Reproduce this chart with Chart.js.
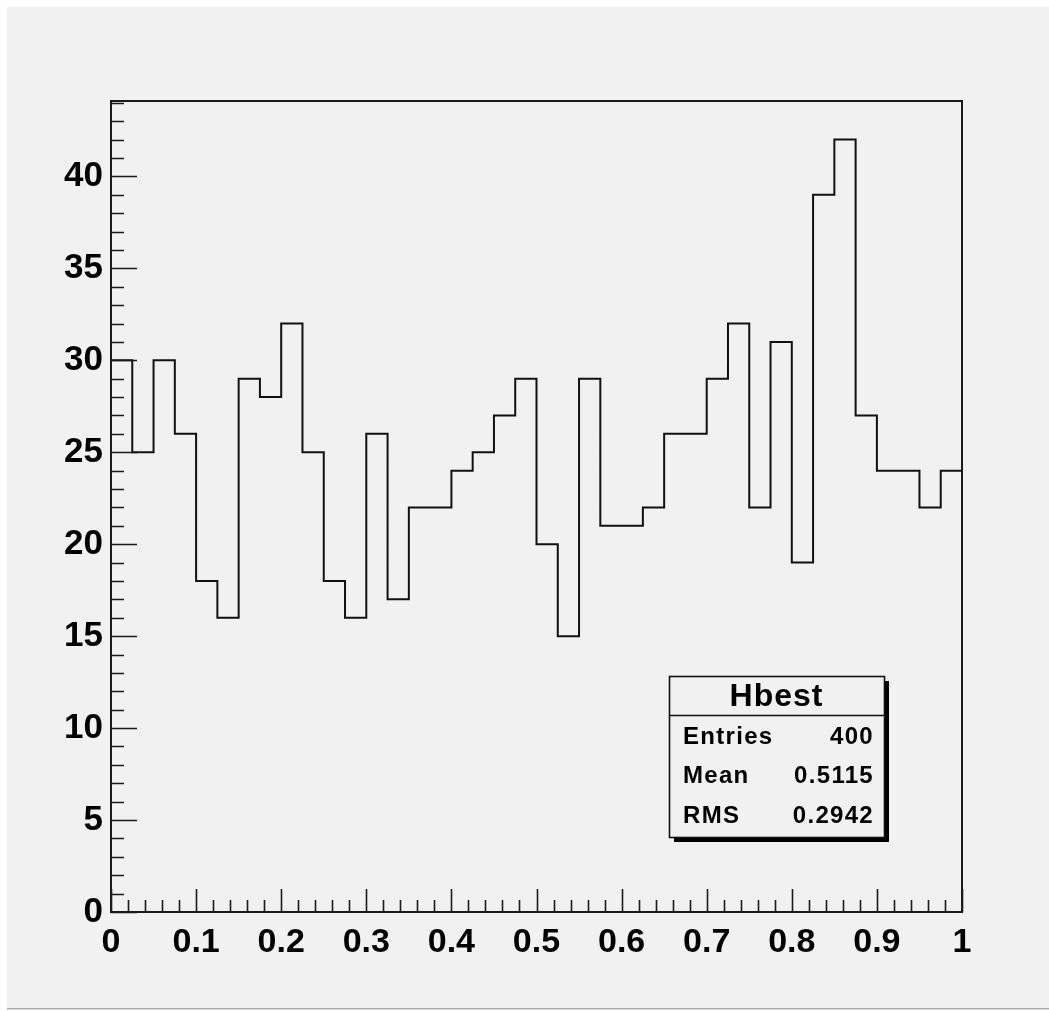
<!DOCTYPE html>
<html>
<head>
<meta charset="utf-8">
<script src="https://cdn.jsdelivr.net/npm/chart.js@4.4.1/dist/chart.umd.min.js"></script>
<style>
  html, body { margin: 0; padding: 0; background: #ffffff; }
  #wrap { position: absolute; left: 0; top: 0; width: 1049px; height: 1011px; }
</style>
</head>
<body>
<div id="wrap"><canvas id="histo" width="1049" height="1011"></canvas></div>
<script>
// Hbest histogram: 40 bins on [0, 1]
var binLow = 0;
var binHigh = 1;
var binCounts = [30, 25, 30, 26, 18, 16, 29, 28, 32, 25,
                 18, 16, 26, 17, 22, 22, 24, 25, 27, 29,
                 20, 15, 29, 21, 21, 22, 26, 26, 29, 32,
                 22, 31, 19, 39, 42, 27, 24, 24, 22, 24];
var xTicks = [0, 0.1, 0.2, 0.3, 0.4, 0.5, 0.6, 0.7, 0.8, 0.9, 1];
var yTicks = [0, 5, 10, 15, 20, 25, 30, 35, 40];
var yMax = 44.1;
var statsLabels = ['Entries', 'Mean', 'RMS'];
var statsValues = ['400', '0.5115', '0.2942'];
var statsTitle = 'Hbest';

(function() {
  var binWidth = (binHigh - binLow) / binCounts.length;

  // outline points: left edge of each bin, closed back to zero at both ends
  var points = [{x: binLow, y: 0}];
  binCounts.forEach(function(v, i) {
    points.push({x: binLow + i * binWidth, y: v});
  });
  points.push({x: binHigh, y: binCounts[binCounts.length - 1]});
  points.push({x: binHigh, y: 0});

  var fontFam = '"Liberation Sans", Arial, Helvetica, sans-serif';

  var rootFrame = {
    id: 'rootFrame',
    beforeDraw: function(chart) {
      var c = chart.ctx;
      c.save();
      c.fillStyle = '#ffffff';
      c.fillRect(0, 0, chart.width, chart.height);
      c.fillStyle = '#f1f1f1';
      c.fillRect(7, 7, chart.width - 7, chart.height - 10);
      c.fillStyle = '#a9a9a9';
      c.fillRect(7, chart.height - 3, chart.width - 7, 1.5);
      c.restore();
    },
    afterDatasetsDraw: function(chart) {
      var c = chart.ctx;
      var a = chart.chartArea;
      var xs = chart.scales.x, ys = chart.scales.y;
      c.save();
      c.strokeStyle = '#1a1a1a';
      c.lineWidth = 2;
      c.strokeRect(a.left, a.top, a.right - a.left, a.bottom - a.top);

      c.lineWidth = 1.6;
      c.beginPath();
      // x ticks: major every 0.1, minor every 0.02, pointing up into the frame
      for (var k = 0; k <= 50; k++) {
        var px = Math.round(xs.getPixelForValue(k * 0.02)) + 0.5;
        var len = (k % 5 === 0) ? 23 : 12;
        c.moveTo(px, a.bottom);
        c.lineTo(px, a.bottom - len);
      }
      // y ticks: major every 5, minor every 1
      for (var j = 0; j <= Math.floor(yMax); j++) {
        var py = Math.round(ys.getPixelForValue(j)) + 0.5;
        var ylen = (j % 5 === 0) ? 26 : 13;
        c.moveTo(a.left, py);
        c.lineTo(a.left + ylen, py);
      }
      c.stroke();

      // stats box
      var bx = 669, by = 676, bw = 215, bh = 161, head = 39;
      c.fillStyle = '#000000';
      c.fillRect(bx + 5, by + 5, bw, bh);
      c.fillStyle = '#f1f1f1';
      c.fillRect(bx, by, bw, bh);
      c.strokeStyle = '#111111';
      c.lineWidth = 1.6;
      c.strokeRect(bx + 0.5, by + 0.5, bw, bh);
      c.beginPath();
      c.moveTo(bx, by + head + 0.5);
      c.lineTo(bx + bw, by + head + 0.5);
      c.stroke();

      c.fillStyle = '#000000';
      c.textBaseline = 'middle';
      c.textAlign = 'center';
      c.font = 'bold 32px ' + fontFam;
      if ('letterSpacing' in c) c.letterSpacing = '1px';
      c.fillText(statsTitle, bx + bw / 2, by + 21);
      c.font = 'bold 24px ' + fontFam;
      if ('letterSpacing' in c) c.letterSpacing = '1.3px';
      statsLabels.forEach(function(lab, i) {
        var ty = by + 61 + i * 39.5;
        c.textAlign = 'left';
        c.fillText(lab, bx + 14, ty);
        c.textAlign = 'right';
        c.fillText(statsValues[i], bx + bw - 10, ty);
      });
      c.restore();
    }
  };

  new Chart(document.getElementById('histo').getContext('2d'), {
    type: 'line',
    data: {
      datasets: [{
        label: statsTitle,
        data: points,
        stepped: 'before',
        borderColor: '#111111',
        borderWidth: 2,
        pointRadius: 0,
        fill: false
      }]
    },
    options: {
      responsive: false,
      animation: false,
      events: [],
      layout: { padding: { left: 0, right: 87, top: 101, bottom: 0 } },
      plugins: {
        legend: { display: false },
        tooltip: { enabled: false }
      },
      scales: {
        x: {
          type: 'linear',
          min: binLow,
          max: binHigh,
          afterFit: function(s) { s.height = 99; },
          afterBuildTicks: function(s) { s.ticks = xTicks.map(function(v) { return {value: v}; }); },
          grid: { display: false, drawTicks: false },
          border: { display: false },
          ticks: {
            color: '#000000',
            padding: 10,
            maxRotation: 0,
            autoSkip: false,
            font: { family: fontFam, size: 34, weight: 'bold' },
            callback: function(v) { return String(Math.round(v * 10) / 10); }
          }
        },
        y: {
          type: 'linear',
          min: 0,
          max: yMax,
          afterFit: function(s) { s.width = 111; },
          afterBuildTicks: function(s) { s.ticks = yTicks.map(function(v) { return {value: v}; }); },
          grid: { display: false, drawTicks: false },
          border: { display: false },
          ticks: {
            color: '#000000',
            padding: 8,
            autoSkip: false,
            font: { family: fontFam, size: 35, weight: 'bold' },
            callback: function(v) { return String(v); }
          }
        }
      }
    },
    plugins: [rootFrame]
  });
})();
</script>
</body>
</html>
